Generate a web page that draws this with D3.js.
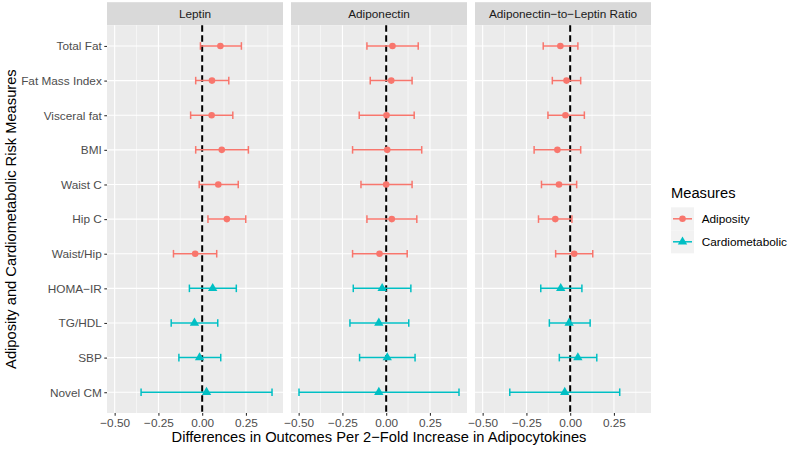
<!DOCTYPE html>
<html><head><meta charset="utf-8">
<script src="https://cdn.jsdelivr.net/npm/d3@7"></script>
<style>body{margin:0;background:#fff}svg{display:block}text{font-family:"Liberation Sans",Arial,sans-serif}</style>
</head><body><svg id="c" width="789" height="450"></svg>
<script>
const measures = ["Total Fat","Fat Mass Index","Visceral fat","BMI","Waist C","Hip C","Waist/Hip","HOMA\u2212IR","TG/HDL","SBP","Novel CM"];
const groups = ["Adiposity","Adiposity","Adiposity","Adiposity","Adiposity","Adiposity","Adiposity","Cardiometabolic","Cardiometabolic","Cardiometabolic","Cardiometabolic"];
const panels = ["Leptin","Adiponectin","Adiponectin\u2212to\u2212Leptin Ratio"];
const estLeptin = [0.104,0.056,0.054,0.112,0.092,0.141,-0.040,0.060,-0.044,-0.015,0.025];
const lowLeptin = [-0.010,-0.037,-0.066,-0.037,-0.017,0.033,-0.164,-0.073,-0.177,-0.133,-0.349];
const highLeptin = [0.224,0.152,0.175,0.264,0.206,0.249,0.083,0.195,0.089,0.106,0.399];
const estAdipo = [0.036,0.029,0.002,0.006,0.000,0.032,-0.038,-0.023,-0.042,0.006,-0.042];
const lowAdipo = [-0.110,-0.091,-0.154,-0.192,-0.144,-0.110,-0.192,-0.188,-0.207,-0.152,-0.498];
const highAdipo = [0.183,0.148,0.160,0.203,0.148,0.175,0.120,0.141,0.129,0.165,0.416];
const estRatio = [-0.056,-0.021,-0.027,-0.073,-0.064,-0.085,0.023,-0.054,-0.006,0.044,-0.031];
const lowRatio = [-0.154,-0.102,-0.127,-0.206,-0.164,-0.181,-0.083,-0.168,-0.119,-0.062,-0.345];
const highRatio = [0.044,0.060,0.081,0.060,0.037,0.010,0.129,0.067,0.114,0.152,0.283];
const xTicks = [-0.5,-0.25,0,0.25];
const xMinor = [-0.375,-0.125,0.125,0.375];
const legendTitle = "Measures";
const legendLabels = ["Adiposity","Cardiometabolic"];

const panelData = [[estLeptin,lowLeptin,highLeptin],[estAdipo,lowAdipo,highAdipo],[estRatio,lowRatio,highRatio]];
const colors = {Adiposity:"#F8766D", Cardiometabolic:"#00BFC4"};
const tickFont = 11.8, titleFont = 14.7;

const svg = d3.select("#c");
const pTop = 25.2, pBottom = 413, stripH = 23;
const pw = 176, gap = 8, left0 = 107;
const allVals = panelData.flatMap(p => p[1].concat(p[2]));
const mn = d3.min(allVals), mx = d3.max(allVals), ext = (mx-mn)*0.05;
const y = d3.scalePoint().domain(measures).range([pTop, pBottom]).padding(0.6);

panels.forEach((name, pi) => {
  const x0 = left0 + pi*(pw+gap);
  const x = d3.scaleLinear().domain([mn-ext, mx+ext]).range([x0, x0+pw]);
  const g = svg.append("g");
  g.append("rect").attr("x",x0).attr("y",pTop-stripH).attr("width",pw).attr("height",stripH).attr("fill","#D9D9D9");
  g.append("text").attr("x",x0+pw/2).attr("y",pTop-stripH/2).attr("dy","0.35em").attr("text-anchor","middle")
    .attr("font-size",tickFont).attr("fill","#1A1A1A").text(name);
  g.append("rect").attr("x",x0).attr("y",pTop).attr("width",pw).attr("height",pBottom-pTop).attr("fill","#EBEBEB");
  g.selectAll(".mn").data(xMinor).join("line").attr("x1",d=>x(d)).attr("x2",d=>x(d)).attr("y1",pTop).attr("y2",pBottom)
    .attr("stroke","#fff").attr("stroke-width",0.55);
  g.selectAll(".mj").data(xTicks).join("line").attr("x1",d=>x(d)).attr("x2",d=>x(d)).attr("y1",pTop).attr("y2",pBottom)
    .attr("stroke","#fff").attr("stroke-width",1.1);
  g.selectAll(".hy").data(measures).join("line").attr("x1",x0).attr("x2",x0+pw).attr("y1",d=>y(d)).attr("y2",d=>y(d))
    .attr("stroke","#fff").attr("stroke-width",1.1);
  const ax = d3.axisBottom(x).tickValues(xTicks).tickSize(2.7).tickPadding(2.5)
    .tickFormat(d => d3.format(".2f")(d).replace("-","\u2212"));
  const axg = g.append("g").attr("transform",`translate(0,${pBottom})`).call(ax);
  axg.select(".domain").remove();
  axg.selectAll("line").attr("stroke","#333333").attr("stroke-width",1.1);
  axg.selectAll("text").attr("fill","#4D4D4D").attr("font-size",tickFont).style("font-family","Liberation Sans, Arial, sans-serif");
  g.append("line").attr("x1",x(0)).attr("x2",x(0)).attr("y1",pTop).attr("y2",pBottom)
    .attr("stroke","#000").attr("stroke-width",2).attr("stroke-dasharray","6.5,3.5");
  const [est, lo, hi] = panelData[pi];
  const rows = measures.map((m,i)=>({m, g:groups[i], e:est[i], l:lo[i], h:hi[i]}));
  g.selectAll(".eb").data(rows).join("line").attr("x1",d=>x(d.l)).attr("x2",d=>x(d.h)).attr("y1",d=>y(d.m)).attr("y2",d=>y(d.m))
    .attr("stroke",d=>colors[d.g]).attr("stroke-width",1.5);
  ["l","h"].forEach(k=>{
    g.selectAll(".cap"+k).data(rows).join("line").attr("x1",d=>x(d[k])).attr("x2",d=>x(d[k]))
      .attr("y1",d=>y(d.m)-3.8).attr("y2",d=>y(d.m)+3.8).attr("stroke",d=>colors[d.g]).attr("stroke-width",1.5);
  });
  g.selectAll(".pt").data(rows).join("path")
    .attr("transform",d=>`translate(${x(d.e)},${y(d.m)})`)
    .attr("d",d=>d3.symbol().type(d.g==="Adiposity"?d3.symbolCircle:d3.symbolTriangle).size(d.g==="Adiposity"?34:38)())
    .attr("fill",d=>colors[d.g]);
});

const yax = d3.axisLeft(y).tickSize(2.7).tickPadding(2.5);
const yg = svg.append("g").attr("transform",`translate(${left0},0)`).call(yax);
yg.select(".domain").remove();
yg.selectAll("line").attr("stroke","#333333").attr("stroke-width",1.1);
yg.selectAll("text").attr("fill","#4D4D4D").attr("font-size",tickFont).style("font-family","Liberation Sans, Arial, sans-serif");

const plotLeft = left0, plotRight = left0 + 3*pw + 2*gap;
svg.append("text").attr("x",(plotLeft+plotRight)/2).attr("y",442).attr("text-anchor","middle")
  .attr("font-size",titleFont).attr("fill","#000").text("Differences in Outcomes Per 2\u2212Fold Increase in Adipocytokines");
svg.append("text").attr("transform",`translate(15.5,${(pTop+pBottom)/2}) rotate(-90)`).attr("text-anchor","middle")
  .attr("font-size",titleFont).attr("fill","#000").text("Adiposity and Cardiometabolic Risk Measures");

const lx = 671;
svg.append("text").attr("x",lx).attr("y",197.5).attr("font-size",titleFont).attr("fill","#000").text(legendTitle);
legendLabels.forEach((lab,i)=>{
  const ky = 207.3 + i*23, kh = 23, cy = ky + kh/2;
  svg.append("rect").attr("x",lx).attr("y",ky).attr("width",23).attr("height",kh).attr("fill","#F2F2F2");
  svg.append("line").attr("x1",lx+2).attr("x2",lx+21).attr("y1",cy).attr("y2",cy)
    .attr("stroke",colors[lab]).attr("stroke-width",1.5);
  svg.append("path").attr("transform",`translate(${lx+11.5},${cy})`)
    .attr("d",d3.symbol().type(i===0?d3.symbolCircle:d3.symbolTriangle).size(i===0?34:38)()).attr("fill",colors[lab]);
  svg.append("text").attr("x",701.7).attr("y",cy).attr("dy","0.35em").attr("font-size",tickFont).attr("fill","#000").text(lab);
});
</script></body></html>
